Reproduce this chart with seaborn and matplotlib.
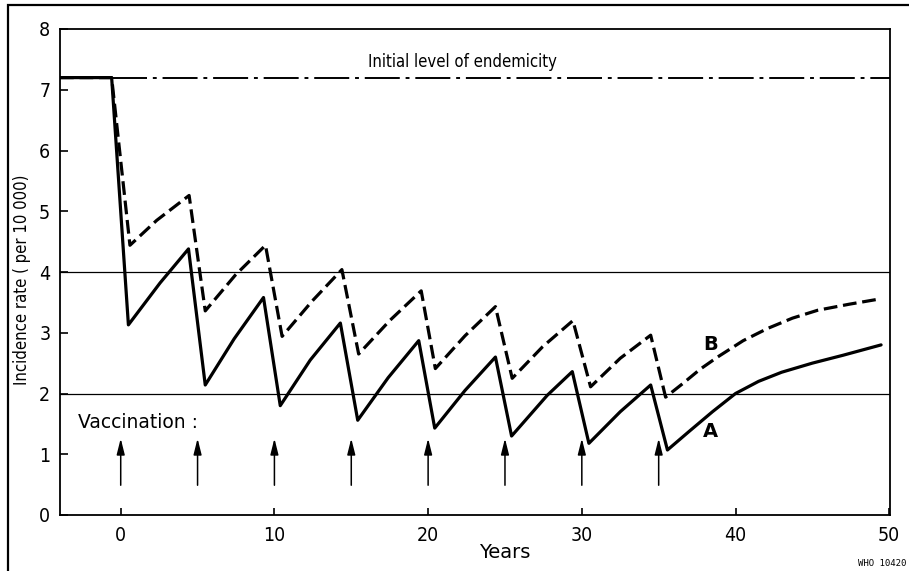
import matplotlib
matplotlib.use("Agg")
import matplotlib.pyplot as plt
from matplotlib.patches import Rectangle
import numpy as np
import pandas as pd
import seaborn as sns

# ---- data ----
years_A = [-3.95, -0.59, 0.50, 2.56, 4.41, 5.50, 7.38, 9.29, 10.38, 12.33, 14.29,
           15.42, 17.40, 19.39, 20.43, 22.40, 24.38, 25.43, 27.75, 29.38, 30.46,
           32.50, 34.48, 35.57, 37.00, 38.50, 40.00, 41.50, 43.00, 45.00, 47.00, 49.47]
rate_A = [7.20, 7.20, 3.13, 3.82, 4.38, 2.14, 2.90, 3.58, 1.80, 2.55, 3.16,
          1.56, 2.26, 2.87, 1.43, 2.05, 2.60, 1.30, 1.97, 2.36, 1.18,
          1.70, 2.14, 1.07, 1.38, 1.70, 2.00, 2.20, 2.35, 2.50, 2.63, 2.80]

years_B = [-3.95, -0.59, 0.60, 2.34, 4.45, 5.50, 7.46, 9.42, 10.50, 12.45, 14.39,
           15.48, 17.50, 19.55, 20.47, 22.40, 24.38, 25.47, 27.45, 29.42, 30.57,
           32.50, 34.48, 35.45, 36.50, 37.70, 38.83, 40.50, 42.08, 43.70, 45.34,
           47.40, 49.47]
rate_B = [7.20, 7.20, 4.44, 4.85, 5.26, 3.36, 3.95, 4.44, 2.94, 3.52, 4.04,
          2.65, 3.20, 3.69, 2.41, 2.95, 3.43, 2.25, 2.77, 3.20, 2.11,
          2.58, 2.96, 1.94, 2.15, 2.40, 2.60, 2.87, 3.07, 3.24, 3.37,
          3.47, 3.56]

endemic_level = 7.19
endemic_start = -0.59
ref_levels = [4, 2]
vaccination_years = [0, 5, 10, 15, 20, 25, 30, 35]
x_ticks = [0, 10, 20, 30, 40, 50]
y_ticks = [0, 1, 2, 3, 4, 5, 6, 7, 8]

df = pd.DataFrame({
    "Years": years_A + years_B,
    "Rate": rate_A + rate_B,
    "Series": ["A"] * len(years_A) + ["B"] * len(years_B),
})

sns.set_style("ticks")
plt.rcParams["font.family"] = ["DejaVu Sans"]
plt.rcParams["font.stretch"] = "condensed"
for k in ["text.color", "axes.labelcolor", "xtick.color", "ytick.color"]:
    plt.rcParams[k] = "black"

fig = plt.figure(figsize=(9.09, 5.71), dpi=100)
ax = fig.add_axes([60 / 909, 1 - 515 / 571, 830 / 909, 486 / 571])

sns.lineplot(data=df, x="Years", y="Rate", style="Series",
             dashes={"A": "", "B": (4.3, 1.8)}, color="black", linewidth=2.3,
             estimator=None, sort=False, legend=False, ax=ax)

# initial level of endemicity (dash-dot)
ax.plot([endemic_start, 50.05], [endemic_level, endemic_level], color="black",
        lw=1.4, linestyle=(0, (18, 3, 2, 3)))
for lv in ref_levels:
    ax.axhline(lv, color="black", lw=0.9)

# vaccination arrows
for vx in vaccination_years:
    ax.annotate("", xy=(vx, 1.26), xytext=(vx, 0.49),
                arrowprops=dict(arrowstyle="-|>,head_length=0.8,head_width=0.2",
                                color="black", lw=1.1, mutation_scale=12,
                                shrinkA=0, shrinkB=0))

ax.text(22.24, 7.46, "Initial level of endemicity", ha="center", va="center",
        fontsize=12)
ax.text(-2.78, 1.53, "Vaccination :", ha="left", va="center", fontsize=13.5,
        stretch="normal")
ax.text(38.4, 2.81, "B", ha="center", va="center", fontsize=14,
        fontweight="bold", stretch="normal")
ax.text(38.4, 1.37, "A", ha="center", va="center", fontsize=14,
        fontweight="bold", stretch="normal")

ax.set_xlim(-3.95, 50.05)
ax.set_ylim(0, 8)
ax.set_xticks(x_ticks)
ax.set_yticks(y_ticks)
ax.tick_params(axis="both", direction="in", labelsize=14, width=1.2, color="black")
ax.tick_params(axis="y", length=6, pad=7)
ax.tick_params(axis="x", length=5, pad=8)
ax.set_xlabel("")
ax.set_ylabel("")
for s in ax.spines.values():
    s.set_color("black")
    s.set_linewidth(1.3)

fig.text(505 / 909, 1 - 553 / 571, "Years", ha="center", va="center", fontsize=14,
         stretch="normal")
fig.text(22 / 909, 1 - 280 / 571, "Incidence rate ( per 10 000)", rotation=90,
         ha="center", va="center", fontsize=12)
fig.text(0.997, 1 - 563 / 571, "WHO 10420", ha="right", va="center", fontsize=6.5,
         family="DejaVu Sans Mono", stretch="normal")

fig.add_artist(Rectangle((8 / 909, -0.05), 1.2, 1.05 - 5 / 571,
                         transform=fig.transFigure, fill=False, lw=1.6,
                         edgecolor="black"))

fig.savefig("out.png", dpi=100)
